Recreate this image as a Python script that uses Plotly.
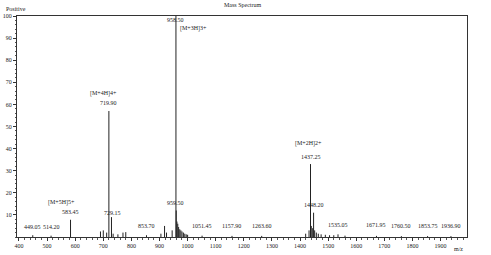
import plotly.graph_objects as go

# peak list (m/z, relative intensity %)
peak_mz = [449.05, 514.20, 583.45, 690.0, 700.0, 712.0, 719.90, 729.15, 735.0, 752.0, 770.0, 780.0,
           853.70, 905.0, 918.0, 925.0, 945.0, 958.50, 959.50, 962.0, 965.0, 968.0, 972.0, 976.0,
           980.0, 985.0, 990.0, 995.0, 1000.0, 1051.45, 1157.90, 1263.60, 1420.0, 1432.0, 1437.25,
           1440.0, 1445.0, 1448.20, 1452.0, 1458.0, 1465.0, 1475.0, 1490.0, 1505.0, 1520.0,
           1535.05, 1560.0, 1671.95, 1760.50, 1853.75, 1936.90]
peak_int = [0.8, 0.6, 7.8, 2.5, 3.0, 2.0, 57.0, 9.0, 1.5, 1.2, 2.0, 2.2,
            0.8, 1.5, 5.0, 2.0, 3.0, 100.0, 12.0, 7.0, 6.0, 4.5, 3.5, 3.0,
            2.5, 2.0, 1.5, 1.2, 1.0, 0.6, 0.5, 0.5, 1.5, 3.0, 33.0,
            5.0, 4.0, 11.0, 3.0, 2.0, 1.5, 1.2, 1.0, 0.8, 0.8,
            1.2, 0.6, 0.5, 0.4, 0.4, 0.4]

# annotation labels (text, x, y)
label_text = ["958.50", "[M+3H]3+", "[M+4H]4+", "719.90", "[M+2H]2+", "1437.25", "1448.20",
              "[M+5H]5+", "583.45", "729.15", "959.50", "449.05", "514.20", "853.70",
              "1051.45", "1157.90", "1263.60", "1535.05", "1671.95", "1760.50", "1853.75", "1936.90"]
label_x = [958.5, 1020, 702, 717, 1430, 1437.25, 1448.2,
           553, 584, 731, 958, 449.05, 514.2, 853.7,
           1051.45, 1157.9, 1263.6, 1535.05, 1671.95, 1760.5, 1853.75, 1936.9]
label_y = [96, 92, 62.4, 58.4, 39.8, 34, 12.2,
           13, 9, 8.6, 13, 2.2, 2.2, 2.6,
           2.6, 2.6, 2.6, 3.0, 3.0, 2.6, 2.8, 2.8]

xs, ys = [], []
for m, v in zip(peak_mz, peak_int):
    xs += [m, m, None]
    ys += [0, v, None]

fig = go.Figure()
fig.add_trace(go.Scatter(x=xs, y=ys, mode="lines",
                         line=dict(color="#222222", width=1), hoverinfo="skip",
                         showlegend=False))

font = dict(family="Liberation Serif", size=6, color="#222222")
for t, x, y in zip(label_text, label_x, label_y):
    fig.add_annotation(x=x, y=y, xref="x", yref="y", text=t, showarrow=False,
                       font=font, yanchor="bottom")

fig.add_annotation(x=0.5, y=1, xref="paper", yref="paper", text="Mass Spectrum",
                   showarrow=False, font=font, xanchor="center", yanchor="bottom", yshift=6)
fig.add_annotation(x=0, y=1, xref="paper", yref="paper", text="Positive",
                   showarrow=False, font=font, xanchor="left", yanchor="bottom",
                   xshift=-13, yshift=2)
fig.add_annotation(x=1, y=0, xref="paper", yref="paper", text="m/z",
                   showarrow=False, font=font, xanchor="right", yanchor="middle",
                   xshift=-2, yshift=-12)

fig.update_layout(
    width=491, height=255,
    margin=dict(l=17, r=24, t=16, b=18),
    paper_bgcolor="white", plot_bgcolor="white",
    font=font,
    xaxis=dict(range=[393, 1994], tickvals=list(range(400, 2000, 100)), automargin=False,
               showgrid=False, zeroline=False, showline=True, linecolor="#333333",
               linewidth=1, mirror=True, ticks="outside", ticklen=3, tickcolor="#333333",
               minor=dict(dtick=20, tick0=400, ticks="outside", ticklen=2, tickcolor="#555555"),
               tickfont=font),
    yaxis=dict(range=[0, 100], tickvals=list(range(10, 101, 10)), automargin=False,
               showgrid=False, zeroline=False, showline=True, linecolor="#333333",
               linewidth=1, mirror=True, ticks="outside", ticklen=3, tickcolor="#333333",
               minor=dict(dtick=2, tick0=0, ticks="outside", ticklen=1.5, tickcolor="#555555"),
               tickfont=font),
)

fig.write_html("out.html")
